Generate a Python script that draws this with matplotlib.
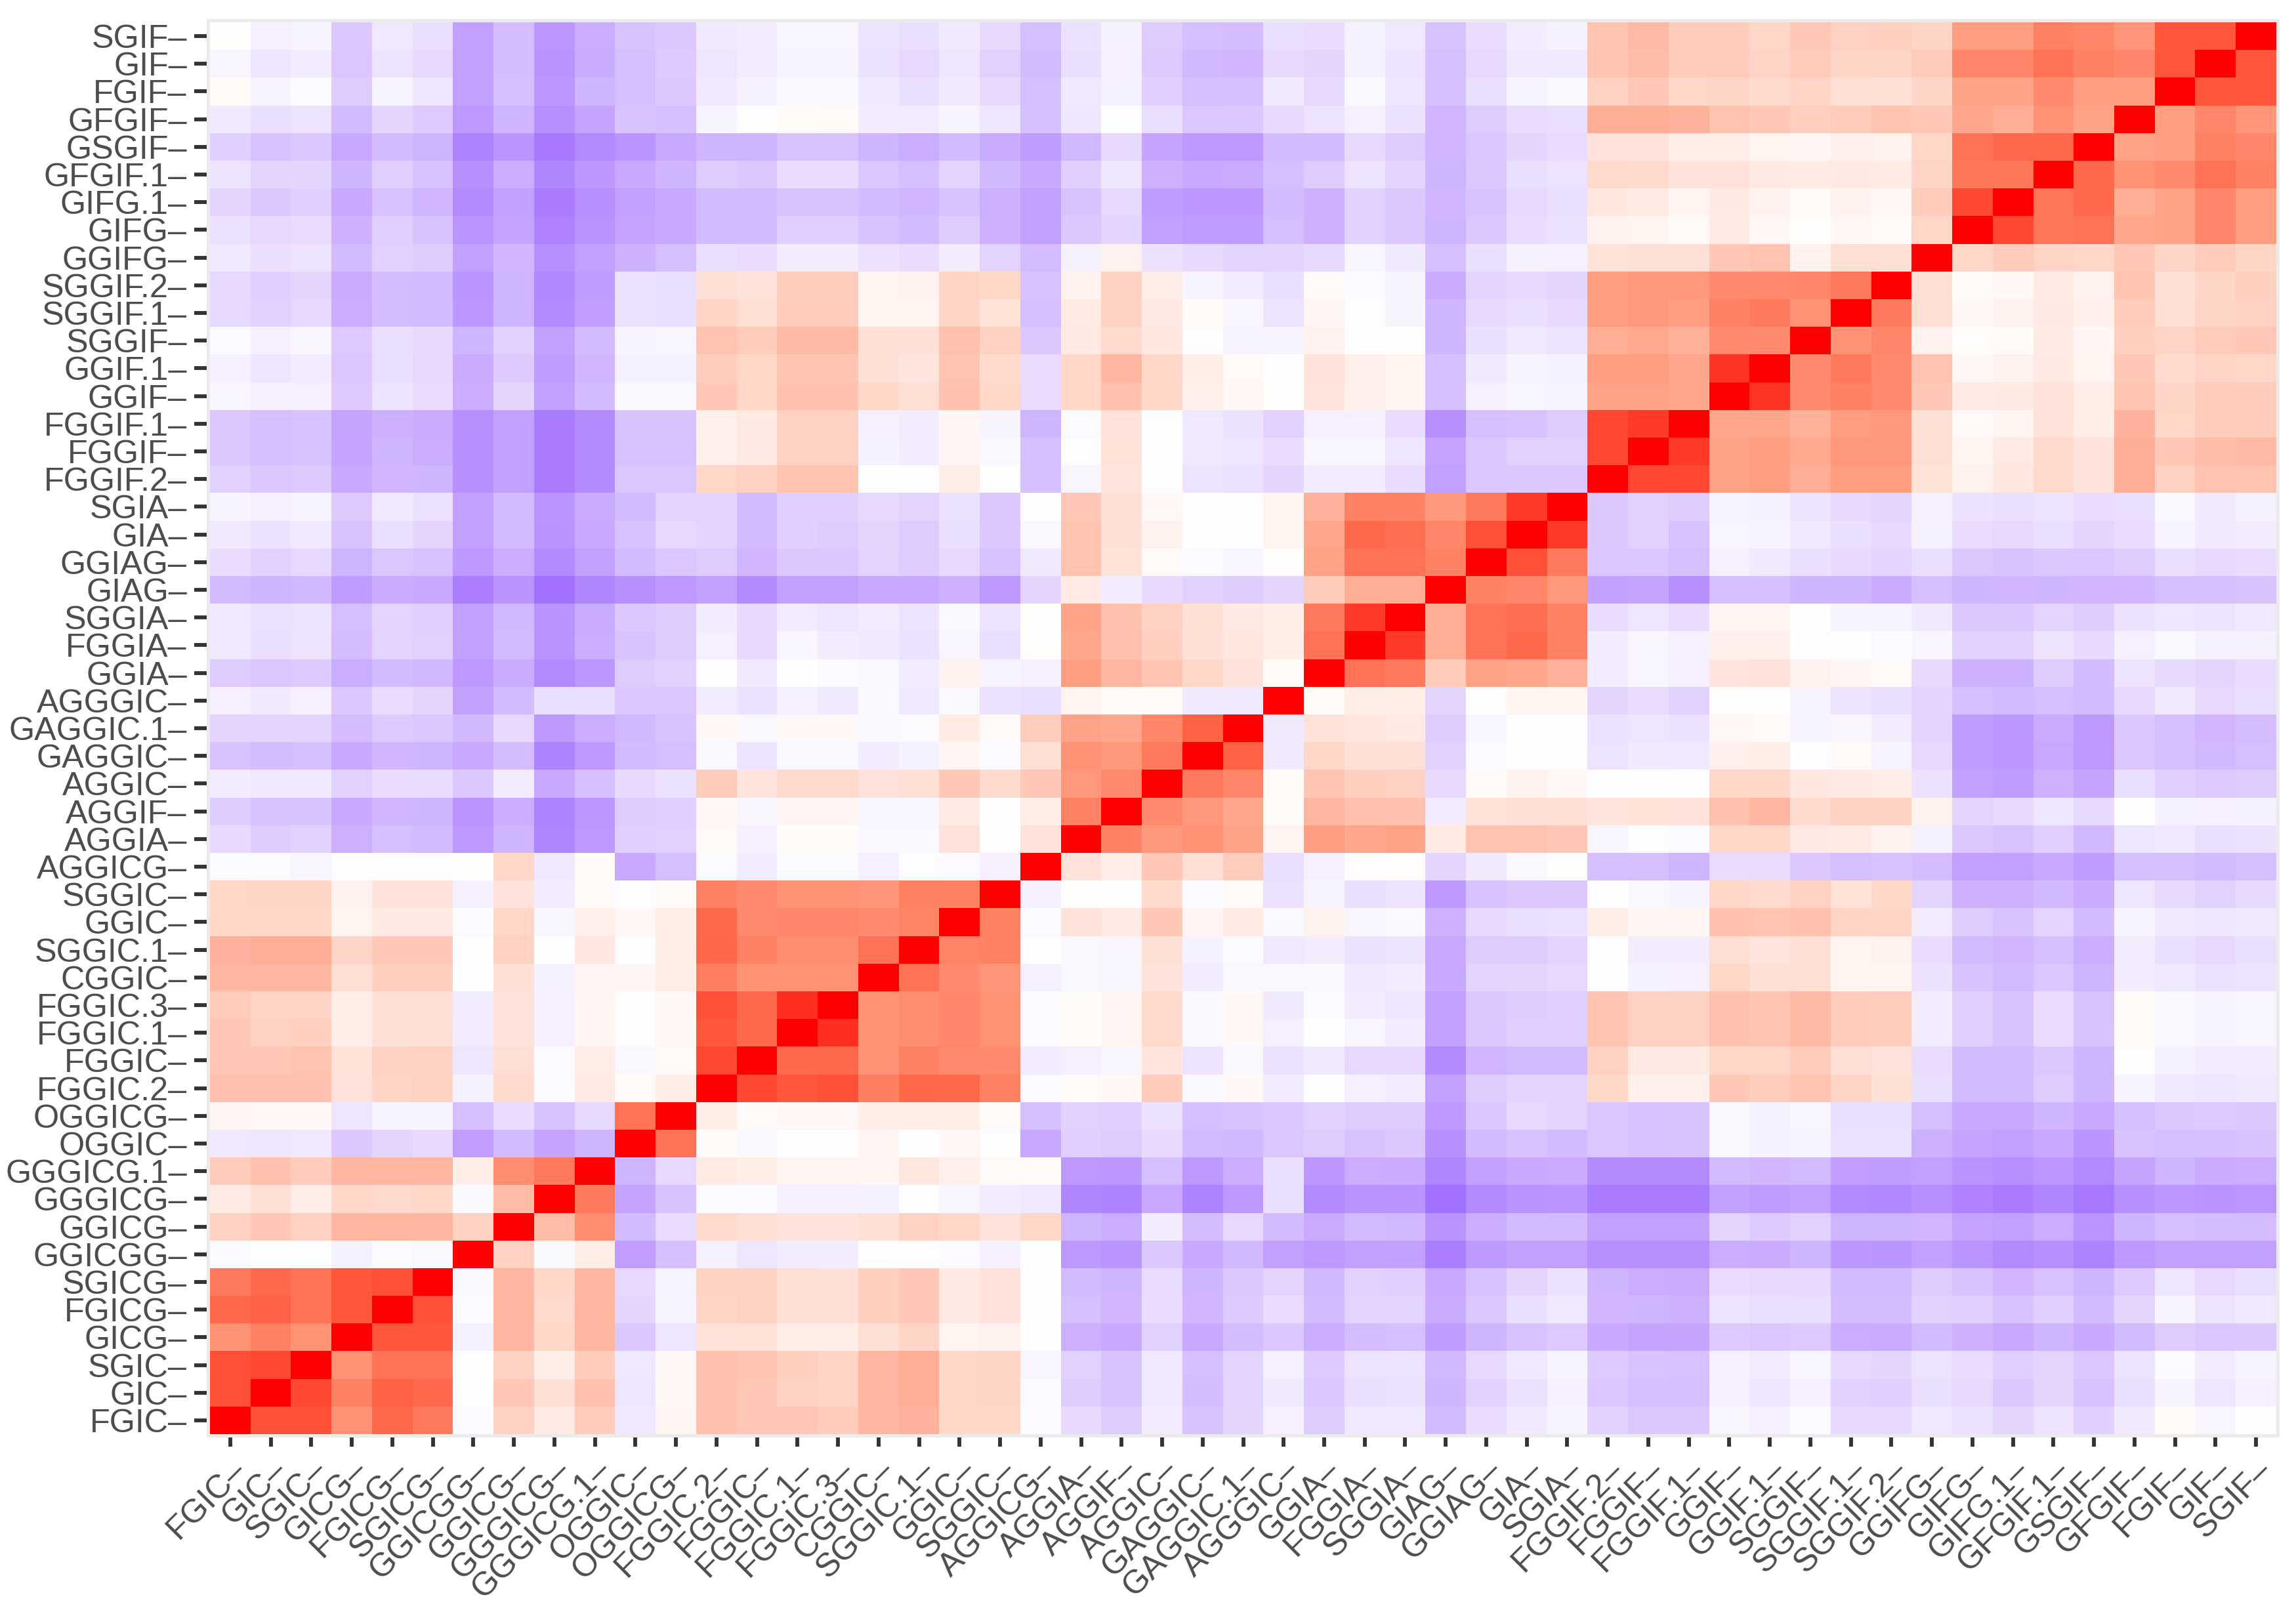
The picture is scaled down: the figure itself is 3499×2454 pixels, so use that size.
import numpy as np
import matplotlib
matplotlib.use('Agg')
import matplotlib.pyplot as plt
from matplotlib.colors import LinearSegmentedColormap

# labels, bottom row / left column first
labels = ['FGIC','GIC','SGIC','GICG','FGICG','SGICG','GGICGG','GGICG','GGGICG','GGGICG.1',
          'OGGIC','OGGICG','FGGIC.2','FGGIC','FGGIC.1','FGGIC.3','CGGIC','SGGIC.1','GGIC','SGGIC',
          'AGGICG','AGGIA','AGGIF','AGGIC','GAGGIC','GAGGIC.1','AGGGIC','GGIA','FGGIA','SGGIA',
          'GIAG','GGIAG','GIA','SGIA','FGGIF.2','FGGIF','FGGIF.1','GGIF','GGIF.1','SGGIF',
          'SGGIF.1','SGGIF.2','GGIFG','GIFG','GIFG.1','GFGIF.1','GSGIF','GFGIF','FGIF','GIF','SGIF']

# correlation x100, lower triangle
r00 = [100]
r01 = [80,100]
r02 = [80,82,100]
r03 = [55,62,55,100]
r04 = [72,75,68,78,100]
r05 = [65,72,68,78,80,100]
r06 = [-2,0,-1,-6,-2,-3,100]
r07 = [25,30,25,38,38,38,25,100]
r08 = [11,17,10,22,21,22,-3,35,100]
r09 = [28,33,28,38,38,38,10,57,65,100]
r10 = [-10,-11,-10,-24,-18,-16,-43,-30,-40,-33,100]
r11 = [5,4,4,-11,-5,-5,-28,-15,-26,-17,68,100]
r12 = [33,33,33,15,24,25,-6,20,-2,11,2,10,100]
r13 = [30,30,32,16,25,25,-11,18,-2,10,-3,3,82,100]
r14 = [30,25,26,10,17,18,-8,15,-7,5,-1,4,78,72,100]
r15 = [28,24,24,9,17,17,-8,15,-7,5,-1,4,80,72,88,100]
r16 = [38,38,38,18,26,26,0,17,-6,5,5,10,63,55,55,55,100]
r17 = [40,42,42,23,30,30,0,25,-1,13,0,9,73,62,57,57,68,100]
r18 = [22,22,22,6,12,12,-2,22,-4,8,4,10,72,58,60,60,58,61,100]
r19 = [22,23,23,7,15,15,-7,15,-8,3,-1,3,62,58,55,55,53,62,62,100]
r20 = [-2,-2,-4,-1,-1,-1,0,22,-10,3,-38,-28,-2,-8,-2,-2,-7,-1,-2,-7,100]
r21 = [-16,-22,-20,-35,-28,-30,-45,-33,-55,-45,-21,-20,3,-7,2,2,-3,-3,15,0,15,100]
r22 = [-22,-26,-26,-38,-32,-33,-47,-36,-57,-46,-22,-21,4,-4,5,5,-4,-4,11,0,9,62,100]
r23 = [-8,-10,-10,-20,-15,-15,-24,-8,-38,-28,-16,-13,28,14,21,21,15,17,30,20,30,52,58,100]
r24 = [-26,-29,-28,-38,-32,-33,-38,-29,-57,-45,-30,-28,-3,-12,-3,-3,-8,-6,5,-2,18,55,52,65,100]
r25 = [-18,-19,-19,-29,-23,-24,-31,-17,-45,-36,-31,-26,4,-3,4,4,-3,-2,11,3,27,47,45,60,75,100]
r26 = [-7,-9,-7,-24,-15,-18,-42,-30,-14,-14,-25,-25,-8,-13,-7,-9,-3,-10,-3,-13,-14,6,2,2,-9,-9,100]
r27 = [-22,-25,-23,-36,-30,-31,-45,-37,-53,-46,-22,-20,-1,-9,0,-2,-3,-8,7,-5,-7,50,38,31,22,15,2,100]
r28 = [-10,-14,-12,-29,-19,-20,-42,-30,-48,-36,-26,-22,-7,-17,-4,-8,-9,-13,-4,-14,1,45,33,26,17,13,10,68,100]
r29 = [-10,-13,-12,-28,-19,-21,-42,-31,-48,-37,-24,-22,-8,-16,-8,-11,-8,-12,-3,-12,1,47,33,25,17,12,10,65,85,100]
r30 = [-30,-33,-31,-44,-37,-38,-60,-48,-68,-55,-50,-45,-42,-52,-42,-42,-38,-38,-34,-45,-18,11,-8,-16,-20,-22,-18,28,42,42,100]
r31 = [-15,-20,-17,-33,-25,-27,-45,-36,-52,-42,-30,-25,-22,-32,-24,-24,-19,-22,-17,-27,-9,32,16,3,-2,-4,1,48,68,68,62,100]
r32 = [-9,-13,-10,-26,-14,-18,-42,-30,-48,-38,-27,-17,-19,-30,-21,-22,-18,-22,-14,-24,-3,32,17,7,-1,-1,6,45,72,70,60,80,100]
r33 = [-5,-7,-5,-23,-10,-13,-42,-30,-47,-37,-30,-19,-19,-30,-21,-21,-17,-19,-13,-24,-1,30,17,4,0,-1,6,40,62,62,52,65,85,100]
r34 = [-20,-25,-23,-38,-32,-33,-50,-42,-62,-52,-25,-25,22,25,32,32,-1,-1,10,0,-28,-4,14,-1,-12,-13,-18,-8,-8,-15,-42,-25,-24,-24,100]
r35 = [-24,-28,-26,-40,-33,-36,-50,-42,-62,-52,-27,-27,8,12,25,25,-6,-8,5,-3,-28,-1,16,-1,-9,-11,-15,-4,-4,-11,-40,-25,-20,-20,82,100]
r36 = [-24,-28,-27,-40,-34,-37,-50,-42,-62,-52,-26,-26,8,12,25,25,-7,-8,5,-5,-33,-2,15,-1,-10,-13,-20,-7,-7,-15,-50,-28,-27,-22,82,85,100]
r37 = [-4,-7,-7,-23,-12,-15,-36,-18,-42,-30,-3,-3,30,22,33,33,22,18,33,22,-15,22,33,22,8,4,1,14,8,6,-28,-7,-4,-5,48,48,45,100]
r38 = [-7,-11,-8,-25,-14,-17,-37,-23,-44,-32,-6,-6,27,22,31,31,17,14,32,20,-15,22,38,22,9,3,-1,15,8,6,-28,-9,-5,-6,50,50,45,87,100]
r39 = [-2,-7,-4,-23,-14,-16,-33,-20,-42,-30,-5,-4,32,28,36,36,18,17,33,25,-24,12,20,13,-1,-5,-5,7,-1,0,-33,-14,-10,-12,42,44,41,58,58,100]
r40 = [-17,-20,-17,-36,-29,-30,-46,-33,-53,-43,-13,-14,24,18,28,28,6,6,24,16,-28,11,25,12,3,-4,-12,5,-1,-5,-33,-16,-14,-16,50,52,50,62,65,55,100]
r41 = [-17,-21,-18,-37,-29,-30,-47,-33,-54,-44,-13,-14,17,15,27,27,6,7,24,22,-27,7,25,9,-5,-8,-14,3,-2,-5,-37,-19,-17,-18,50,52,52,58,58,60,65,100]
r42 = [-10,-14,-12,-30,-20,-22,-42,-32,-50,-42,-34,-28,-14,-15,-8,-8,-13,-15,-8,-19,-29,-6,7,-13,-16,-19,-19,-16,-4,-9,-28,-14,-6,-7,16,17,17,30,32,7,18,18,100]
r43 = [-13,-17,-15,-34,-21,-26,-47,-40,-58,-48,-40,-38,-30,-30,-21,-21,-26,-30,-22,-34,-42,-24,-19,-42,-44,-44,-28,-34,-20,-24,-33,-24,-15,-13,7,6,3,11,4,1,4,2,22,100]
r44 = [-18,-24,-21,-38,-27,-32,-53,-42,-62,-50,-42,-38,-30,-30,-26,-26,-30,-32,-26,-35,-42,-26,-17,-44,-46,-46,-30,-34,-20,-24,-32,-26,-17,-14,13,11,6,12,7,2,7,4,28,82,100]
r45 = [-12,-18,-18,-33,-21,-27,-50,-36,-55,-46,-38,-33,-22,-24,-15,-15,-25,-28,-19,-31,-38,-21,-11,-34,-38,-37,-28,-22,-12,-19,-33,-24,-14,-12,21,20,15,15,12,11,12,11,24,67,67,100]
r46 = [-21,-27,-25,-38,-30,-33,-57,-47,-63,-53,-47,-38,-33,-33,-26,-26,-33,-36,-30,-37,-44,-31,-16,-40,-45,-45,-30,-30,-16,-22,-32,-25,-18,-15,15,15,9,9,6,5,8,7,22,68,72,72,100]
r47 = [-9,-14,-12,-30,-18,-23,-45,-33,-50,-40,-26,-28,-5,-1,2,3,-8,-8,-5,-11,-28,-11,0,-14,-25,-24,-16,-12,-7,-13,-32,-22,-15,-14,42,42,40,32,30,26,28,32,30,45,42,55,48,100]
r48 = [2,-5,-2,-22,-5,-11,-42,-28,-46,-33,-28,-24,-10,-6,-3,-3,-10,-14,-9,-16,-28,-10,-6,-21,-28,-28,-9,-16,-3,-11,-28,-14,-5,-3,25,30,22,23,20,24,18,17,23,47,47,58,50,50,100]
r49 = [-4,-11,-8,-25,-12,-17,-42,-29,-48,-37,-28,-23,-11,-8,-5,-5,-13,-17,-11,-20,-30,-14,-7,-23,-31,-32,-16,-18,-6,-12,-28,-17,-9,-9,32,35,28,28,24,28,23,23,28,60,60,68,62,60,78,100]
r50 = [0,-7,-5,-24,-10,-14,-42,-29,-46,-36,-26,-24,-9,-8,-4,-4,-12,-14,-9,-16,-28,-13,-6,-22,-28,-29,-14,-15,-6,-10,-26,-15,-8,-6,32,36,28,28,22,30,25,26,23,50,50,62,60,53,78,78,100]

rows = [r00,r01,r02,r03,r04,r05,r06,r07,r08,r09,r10,r11,r12,r13,r14,r15,r16,r17,r18,r19,
        r20,r21,r22,r23,r24,r25,r26,r27,r28,r29,r30,r31,r32,r33,r34,r35,r36,r37,r38,r39,
        r40,r41,r42,r43,r44,r45,r46,r47,r48,r49,r50]

n = len(labels)
mat = np.zeros((n, n))
for i, r in enumerate(rows):
    mat[i, :i+1] = r
    mat[:i+1, i] = r

# white to blue / white to red, mixed the ggplot way
cmap = LinearSegmentedColormap.from_list('rwb', [
    (0.0, '#7A3CFF'), (0.25, '#B78FFF'), (0.375, '#DBC6FF'),
    (0.5, '#FFFFFF'),
    (0.625, '#FFD2C3'), (0.75, '#FF9E81'), (0.875, '#FF6345'), (1.0, '#FF0000')], N=512)

W, H = 3499, 2454
fig = plt.figure(figsize=(W/300, H/300), dpi=300)
ax = fig.add_axes([320/W, 1 - 2186/H, (3469-320)/W, (2186-34)/H])
im = ax.imshow(mat, cmap=cmap, vmin=-100, vmax=100, origin='lower', aspect='auto', interpolation='nearest')

# cells over the panel border, border over the tick roots
im.set_zorder(3)
ax.set_axisbelow(True)
for s in ax.spines.values():
    s.set_color('#EBEBEB')
    s.set_linewidth(2.4)

TXT = '#4D4D4D'
ax.set_xticks(range(n))
ax.set_yticks(range(n))
ax.set_xticklabels([l + '–' for l in labels], rotation=45, ha='right', va='top', rotation_mode='anchor',
                   fontsize=12.1, color=TXT, family='Liberation Sans')
ax.set_yticklabels([l + '–' for l in labels], fontsize=12.1, color=TXT, family='Liberation Sans')
ax.tick_params(axis='x', length=4.6, width=1.4, color='#333333', pad=2.9)
ax.tick_params(axis='y', length=5.8, width=1.4, color='#333333', pad=2.6)

fig.savefig('out.png', dpi=300)
